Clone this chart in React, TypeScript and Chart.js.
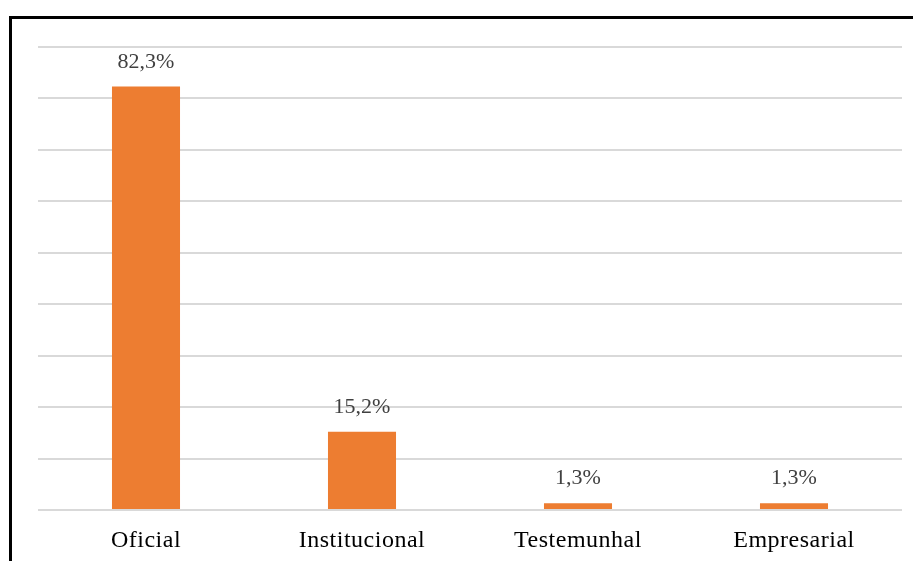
import React, { useEffect, useRef } from "react";
import { Chart, registerables } from "chart.js";

Chart.register(...registerables);

const categories = ["Oficial", "Institucional", "Testemunhal", "Empresarial"];
const values = [82.3, 15.2, 1.3, 1.3];
const valueLabels = ["82,3%", "15,2%", "1,3%", "1,3%"];
const yMax = 90;
const yStep = 10;

const spacingPlugin = {
  id: "axisSpacing",
  beforeDraw(chart: any) {
    (chart.ctx as any).letterSpacing = "0.5px";
  },
  beforeDatasetsDraw(chart: any) {
    (chart.ctx as any).letterSpacing = "0px";
  },
};

const labelPlugin = {
  id: "valueLabels",
  afterDatasetsDraw(chart: any) {
    const ctx = chart.ctx;
    const meta = chart.getDatasetMeta(0);
    ctx.save();
    (ctx as any).letterSpacing = "0px";
    ctx.font = '22px "Liberation Serif", "Times New Roman", serif';
    ctx.fillStyle = "#404040";
    ctx.textAlign = "center";
    ctx.textBaseline = "alphabetic";
    meta.data.forEach((bar: any, i: number) => {
      ctx.fillText(valueLabels[i], bar.x, bar.y - 19);
    });
    ctx.restore();
  },
};

export default function App() {
  const ref = useRef<HTMLCanvasElement | null>(null);
  useEffect(() => {
    if (!ref.current) return;
    const chart = new Chart(ref.current, {
      type: "bar",
      data: {
        labels: categories,
        datasets: [
          {
            data: values,
            backgroundColor: "#ED7D31",
            borderWidth: 0,
            barPercentage: 0.315,
            categoryPercentage: 1,
          },
        ],
      },
      options: {
        animation: false,
        responsive: false,
        maintainAspectRatio: false,
        layout: { padding: { left: 38, right: 11, top: 47, bottom: 0 } },
        plugins: { legend: { display: false }, tooltip: { enabled: false } },
        scales: {
          x: {
            grid: { display: false, drawTicks: false },
            border: { display: false },
            ticks: {
              color: "#000000",
              padding: 16,
              font: { family: '"Liberation Serif", "Times New Roman", serif', size: 24 },
            },
            afterFit: (scale: any) => {
              scale.height = 51;
            },
          },
          y: {
            min: 0,
            max: yMax,
            ticks: { display: false, stepSize: yStep },
            grid: { color: "#d9d9d9", lineWidth: 2, drawTicks: false },
            border: { display: false },
            afterFit: (scale: any) => {
              scale.width = 0;
            },
          },
        },
      },
      plugins: [spacingPlugin, labelPlugin],
    });
    return () => chart.destroy();
  }, []);
  return (
    <div
      style={{
        position: "fixed",
        left: 0,
        top: 0,
        width: 913,
        height: 561,
        overflow: "hidden",
        background: "#ffffff",
      }}
    >
      <div
        style={{
          position: "absolute",
          left: 9,
          top: 16,
          width: 1000,
          height: 1000,
          border: "3px solid #000000",
        }}
      />
      <canvas
        ref={ref}
        width={913}
        height={561}
        style={{ position: "absolute", left: 0, top: 0, width: 913, height: 561 }}
      />
    </div>
  );
}
